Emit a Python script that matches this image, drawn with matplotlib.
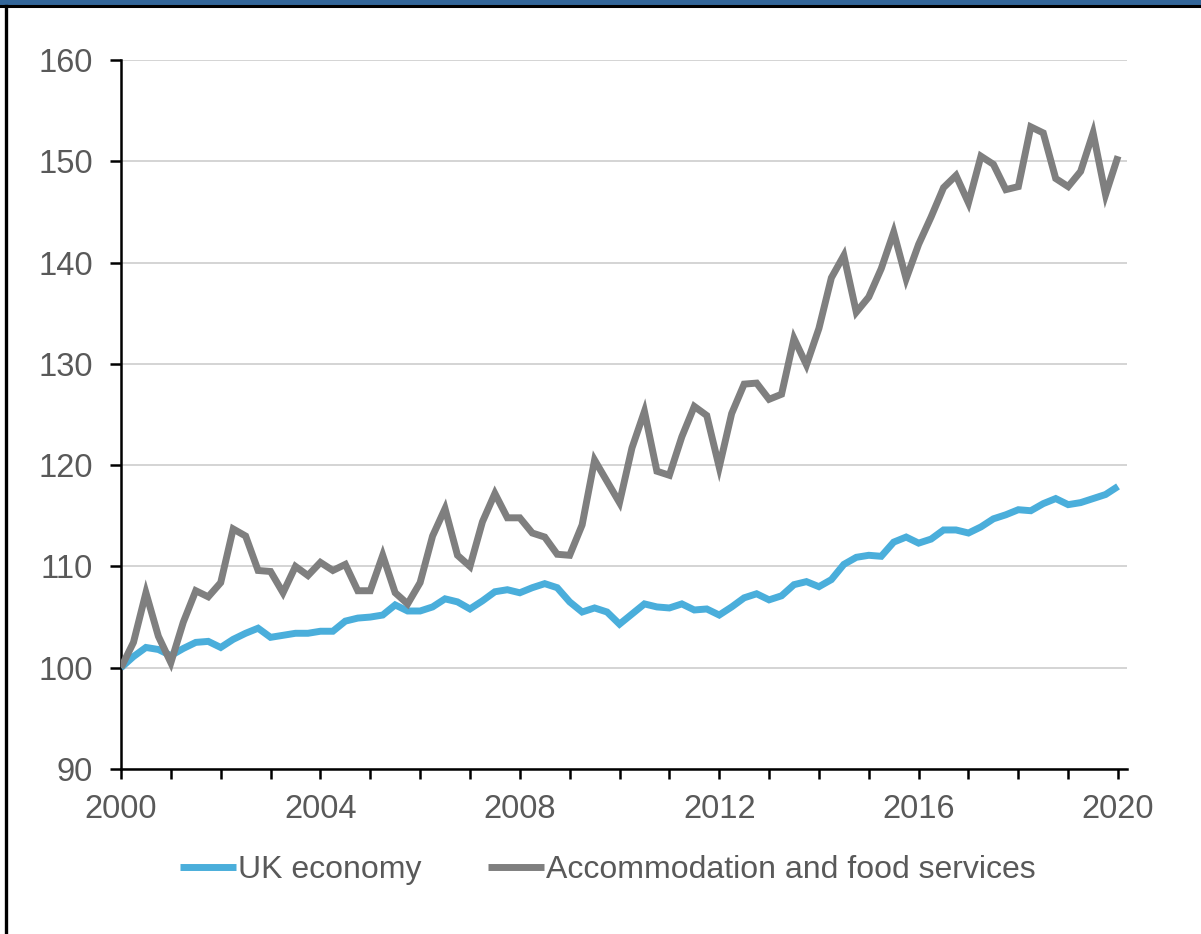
import matplotlib.pyplot as plt
import numpy as np
from matplotlib.lines import Line2D
from matplotlib.patches import Rectangle

plt.rcParams["font.family"] = ["Liberation Sans", "DejaVu Sans"]

# Quarterly index, 2000 Q1 = 100, from 2000 Q1 to 2020 Q1
uk_economy = [
    100.0, 101.1, 102.0, 101.8, 101.2, 101.9, 102.5, 102.6, 102.0, 102.8,
    103.4, 103.9, 103.0, 103.2, 103.4, 103.4, 103.6, 103.6, 104.6, 104.9,
    105.0, 105.2, 106.2, 105.6, 105.6, 106.0, 106.8, 106.5, 105.8, 106.6,
    107.5, 107.7, 107.4, 107.9, 108.3, 107.9, 106.5, 105.5, 105.9, 105.5,
    104.3, 105.3, 106.3, 106.0, 105.9, 106.3, 105.7, 105.8, 105.2, 106.0,
    106.9, 107.3, 106.7, 107.1, 108.2, 108.5, 108.0, 108.7, 110.2, 110.9,
    111.1, 111.0, 112.4, 112.9, 112.3, 112.7, 113.6, 113.6, 113.3, 113.9,
    114.7, 115.1, 115.6, 115.5, 116.2, 116.7, 116.1, 116.3, 116.7, 117.1,
    117.9,
]
accommodation = [
    100.0, 102.5, 107.4, 103.1, 100.5, 104.5, 107.6, 107.0, 108.4, 113.7,
    113.0, 109.6, 109.5, 107.4, 110.0, 109.1, 110.4, 109.6, 110.2, 107.6,
    107.6, 111.1, 107.4, 106.3, 108.4, 113.0, 115.7, 111.1, 110.0, 114.4,
    117.2, 114.8, 114.8, 113.3, 112.9, 111.2, 111.1, 114.1, 120.5, 118.4,
    116.3, 121.7, 125.3, 119.4, 119.0, 122.8, 125.8, 124.9, 119.8, 125.1,
    128.0, 128.1, 126.5, 127.0, 132.5, 129.9, 133.5, 138.5, 140.7, 135.1,
    136.6, 139.4, 143.0, 138.4, 141.8, 144.5, 147.4, 148.6, 145.9, 150.5,
    149.7, 147.2, 147.5, 153.4, 152.8, 148.3, 147.5, 149.0, 152.8, 146.7,
    150.5,
]
year_labels = ["2000", "2004", "2008", "2012", "2016", "2020"]
y_ticks = [90, 100, 110, 120, 130, 140, 150, 160]

blue = "#4aaedb"
grey = "#7f7f7f"
text_grey = "#595959"

fig = plt.figure(figsize=(12.01, 9.34), dpi=100)

# page frame: blue band along the top, black rules under it and on the left
fig.patches.append(Rectangle((0, 1 - 5 / 934), 1, 5 / 934, transform=fig.transFigure,
                             facecolor="#336699", edgecolor="none", zorder=0))
fig.lines.append(Line2D([0, 1], [1 - 6 / 934, 1 - 6 / 934], transform=fig.transFigure,
                        color="black", lw=2.2))
fig.lines.append(Line2D([6 / 1201, 6 / 1201], [0, 1 - 6 / 934], transform=fig.transFigure,
                        color="black", lw=2.4))

ax = fig.add_axes([121 / 1201, 1 - 769 / 934, (1127 - 121) / 1201, (769 - 60) / 934])

q = np.arange(len(uk_economy))
ax.plot(q, uk_economy, color=blue, lw=5.0, solid_joinstyle="miter",
        solid_capstyle="butt", label="UK economy", zorder=3)
ax.plot(q, accommodation, color=grey, lw=5.0, solid_joinstyle="miter",
        solid_capstyle="butt", label="Accommodation and food services", zorder=3)

ax.set_xlim(0, 80.72)
ax.set_ylim(90, 160)
ax.set_yticks(y_ticks)
ax.set_xticks(np.arange(0, 81, 16))
ax.set_xticklabels(year_labels)
ax.set_xticks(np.arange(0, 81, 4), minor=True)

ax.grid(axis="y", color="#d4d4d4", lw=1.4, zorder=0)
for side in ["top", "right"]:
    ax.spines[side].set_visible(False)
for side in ["left", "bottom"]:
    ax.spines[side].set_linewidth(1.8)
    ax.spines[side].set_color("black")

ax.tick_params(axis="y", direction="out", length=8, width=1.8, pad=12,
               labelsize=23.5, labelcolor=text_grey)
ax.tick_params(axis="x", which="both", direction="out", length=7, width=1.8,
               pad=11, labelsize=23.5, labelcolor=text_grey)

leg = fig.legend(loc="center", bbox_to_anchor=(608 / 1201, 1 - 870 / 934), ncol=2,
                 frameon=False, fontsize=23, handlelength=1.75, handletextpad=0.05,
                 columnspacing=2.1)
for t in leg.get_texts():
    t.set_color(text_grey)

fig.savefig("out.png", dpi=100)
